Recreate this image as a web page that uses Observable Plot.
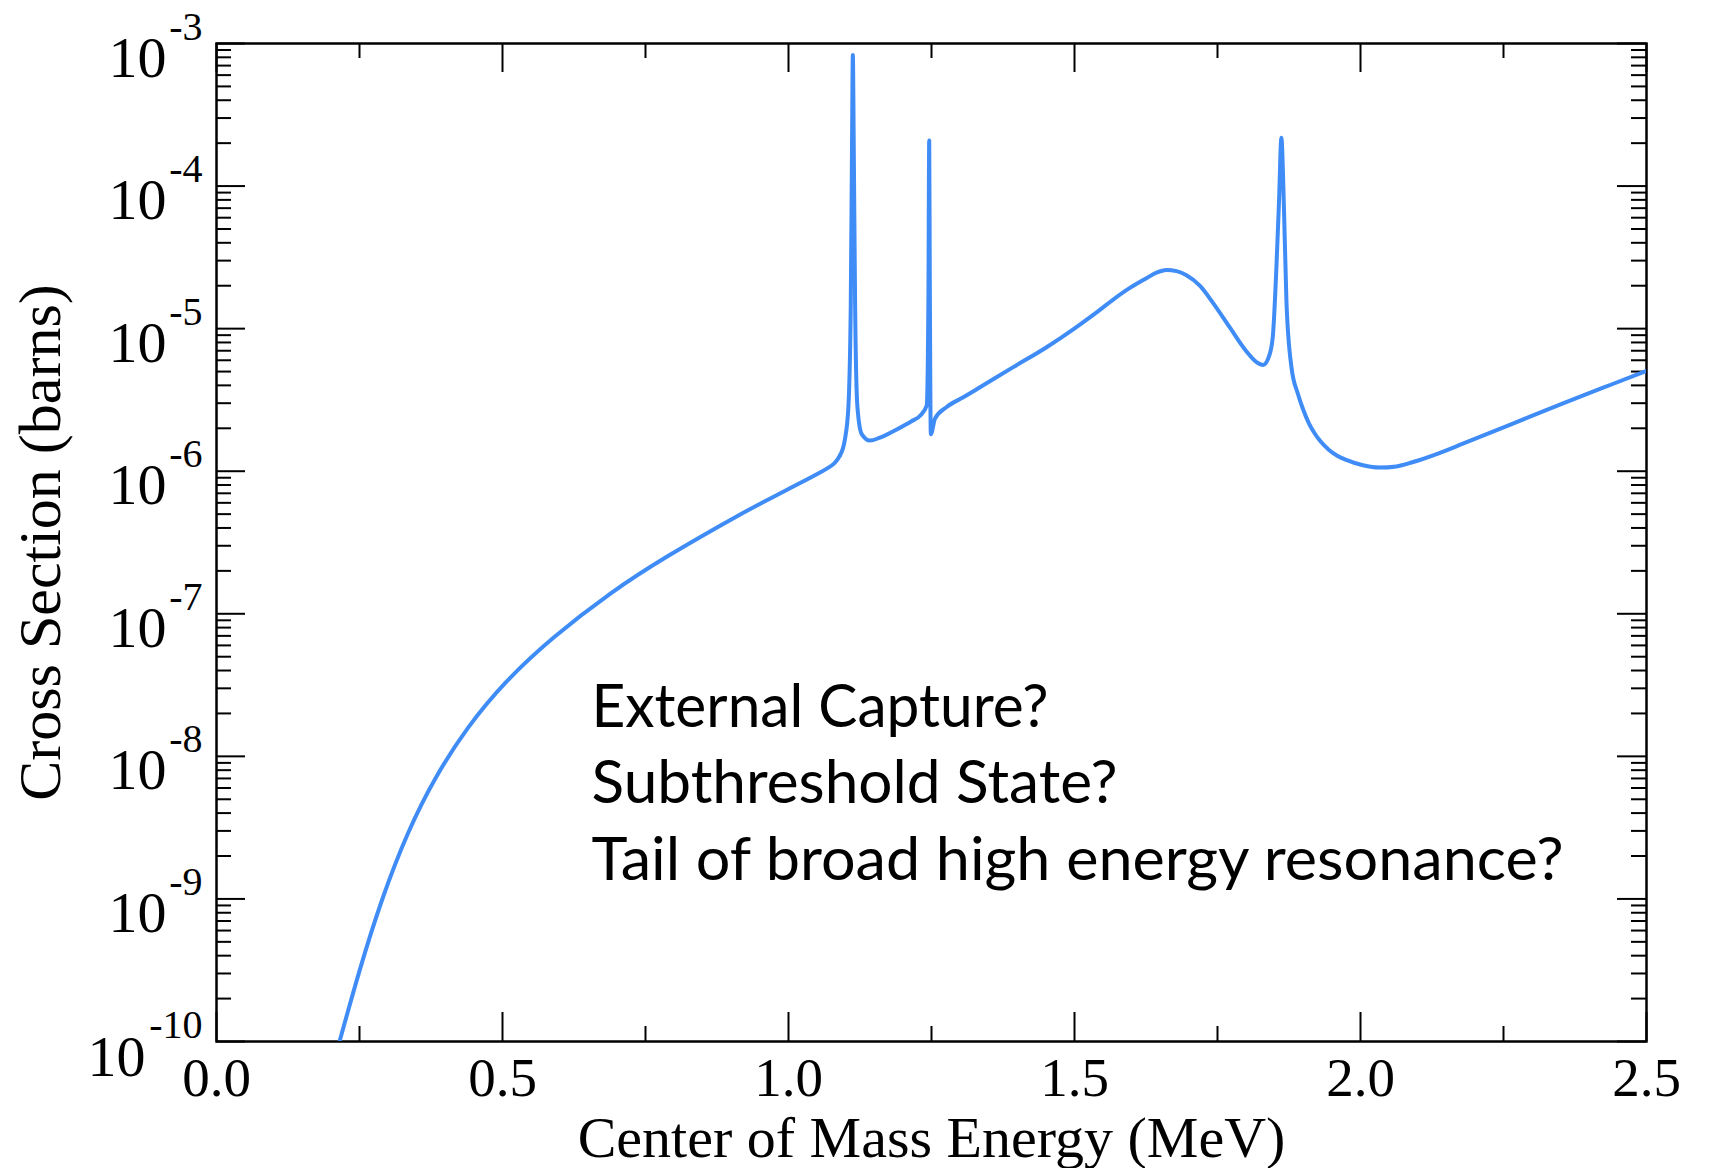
<!DOCTYPE html>
<html><head><meta charset="utf-8">
<script src="https://cdn.jsdelivr.net/npm/d3@7"></script>
<script src="https://cdn.jsdelivr.net/npm/@observablehq/plot@0.6"></script>
<style>html,body{margin:0;padding:0;background:#fff;} #chart{width:1716px;height:1168px;}</style>
</head><body><div id="chart"></div>
<script>
// Center of mass energy (MeV)
const energy = [0.2151, 0.2500, 0.2897, 0.3350, 0.3839, 0.4400, 0.5070, 0.5900, 0.6881, 0.7900,
  0.9054, 0.9800, 1.0503, 1.0800, 1.0900, 1.0989,
  1.1047, 1.1088, 1.1111, 1.1125, 1.1140, 1.1165, 1.1205, 1.128, 1.1425,
  1.160, 1.190, 1.215, 1.230, 1.2416, 1.2445, 1.2460, 1.2470, 1.2488, 1.2561, 1.2765, 1.3056,
  1.3347, 1.3929, 1.4512, 1.4978, 1.5386, 1.5677, 1.5968, 1.626, 1.6434, 1.6609, 1.6784, 1.6958,
  1.7191, 1.7424, 1.7715, 1.8007, 1.8182, 1.8298, 1.8414, 1.8471, 1.8530, 1.8576, 1.8617,
  1.8658, 1.8705, 1.8793, 1.8908, 1.8996, 1.9100, 1.9200, 1.9300, 1.9450, 1.9600, 1.9750,
  2.0044, 2.0335, 2.0627, 2.092, 2.1355, 2.179, 2.2665, 2.354, 2.441, 2.500];
// Cross section (barns)
const sigma = [1.00e-10, 3.13e-10, 9.91e-10, 2.90e-9, 7.14e-9, 1.59e-8, 3.34e-8, 6.84e-8, 1.38e-7, 2.55e-7,
  4.72e-7, 6.82e-7, 9.55e-7, 1.135e-6, 1.29e-6, 1.70e-6,
  2.82e-6, 1.41e-5, 2.09e-4, 8.32e-4, 2.09e-4, 1.41e-5, 2.82e-6, 1.82e-6, 1.64e-6,
  1.72e-6, 1.97e-6, 2.24e-6, 2.45e-6, 2.88e-6, 1.41e-5, 2.09e-4, 2.40e-5, 1.82e-6, 2.34e-6, 2.82e-6, 3.30e-6,
  3.88e-6, 5.37e-6, 7.41e-6, 9.89e-6, 1.30e-5, 1.60e-5, 1.93e-5, 2.26e-5, 2.47e-5, 2.58e-5, 2.53e-5, 2.37e-5,
  2.00e-5, 1.51e-5, 1.02e-5, 6.92e-6, 5.82e-6, 5.56e-6, 6.65e-6, 9.20e-6, 2.70e-5, 7.94e-5, 2.18e-4,
  7.94e-5, 1.57e-5, 5.37e-6, 3.47e-6, 2.72e-6, 2.16e-6, 1.84e-6, 1.62e-6, 1.41e-6, 1.28e-6, 1.20e-6,
  1.10e-6, 1.06e-6, 1.08e-6, 1.16e-6, 1.33e-6, 1.56e-6, 2.16e-6, 2.99e-6, 4.09e-6, 5.05e-6];

const xMajorTicks = [0, 0.5, 1.0, 1.5, 2.0, 2.5];
const xMinorTicks = [0.25, 0.75, 1.25, 1.75, 2.25];
const xTickLabels = ["0.0", "0.5", "1.0", "1.5", "2.0", "2.5"];
const yDecades = [1e-10, 1e-9, 1e-8, 1e-7, 1e-6, 1e-5, 1e-4, 1e-3];
const yExponents = ["-10", "-9", "-8", "-7", "-6", "-5", "-4", "-3"];
const yMinorMultipliers = [2, 3, 4, 5, 6, 7, 8, 9];
const annotationLines = ["External Capture?", "Subthreshold State?", "Tail of broad high energy resonance?"];
const xLabel = "Center of Mass Energy (MeV)";
const yLabel = "Cross Section (barns)";

const curve = energy.map((e, i) => ({e, s: sigma[i]}));
const smoothEnd = 1.0900; // below this the curve is a smooth non-resonant rise
const curveLow = curve.filter(d => d.e <= smoothEnd);
const curveHigh = curve.filter(d => d.e >= smoothEnd);
const yMinorTicks = yDecades.slice(0, -1).flatMap(d => yMinorMultipliers.map(m => m * d));
const decadeRows = yDecades.map((d, i) => ({d, exp: yExponents[i]}));

const W = 1716, H = 1168;
const mL = 216, mR = 70, mT = 43, mB = 127;
const fw = W - mL - mR, fh = H - mT - mB;
const major = 29, minor = 15;
const serif = "Liberation Serif, Times New Roman, serif";
const tickStyle = {stroke: "black", strokeWidth: 2};
const lineStyle = {x: "e", y: "s", stroke: "#3f8cf6", strokeWidth: 4, strokeLinejoin: "round", clip: true};

const chart = Plot.plot({
  width: W, height: H,
  marginLeft: mL, marginRight: mR, marginTop: mT, marginBottom: mB,
  style: {background: "white", overflow: "visible"},
  x: {domain: [0, 2.5], axis: null},
  y: {type: "log", domain: [1e-10, 1e-3], axis: null},
  marks: [
    // bottom & top x ticks (inward)
    Plot.tickX(xMajorTicks, {x: d => d, insetTop: fh - major, ...tickStyle}),
    Plot.tickX(xMinorTicks, {x: d => d, insetTop: fh - minor, ...tickStyle}),
    Plot.tickX(xMajorTicks, {x: d => d, insetBottom: fh - major, ...tickStyle}),
    Plot.tickX(xMinorTicks, {x: d => d, insetBottom: fh - minor, ...tickStyle}),
    // left & right y ticks (inward)
    Plot.tickY(yDecades, {y: d => d, insetRight: fw - major, ...tickStyle}),
    Plot.tickY(yMinorTicks, {y: d => d, insetRight: fw - minor, ...tickStyle}),
    Plot.tickY(yDecades, {y: d => d, insetLeft: fw - major, ...tickStyle}),
    Plot.tickY(yMinorTicks, {y: d => d, insetLeft: fw - minor, ...tickStyle}),
    Plot.frame({stroke: "black", strokeWidth: 2.5}),
    // curve
    Plot.line(curveLow, {...lineStyle, curve: "natural"}),
    Plot.line(curveHigh, {...lineStyle, curve: "monotone-x"}),
    // x tick labels
    Plot.text(xMajorTicks, {x: d => d, text: (d, i) => xTickLabels[i], frameAnchor: "bottom", dy: 54,
      textAnchor: "middle", lineAnchor: "bottom", fontSize: 55, fontFamily: serif, fill: "black"}),
    // y tick labels: "10" + raised exponent
    Plot.text(decadeRows.filter(r => r.d > 1e-10), {y: "d", text: () => "10", frameAnchor: "left", dx: -50, dy: 33,
      textAnchor: "end", lineAnchor: "bottom", fontSize: 58, fontFamily: serif, fill: "black"}),
    Plot.text(decadeRows.filter(r => r.d === 1e-10), {y: "d", text: () => "10", frameAnchor: "left", dx: -71, dy: 34,
      textAnchor: "end", lineAnchor: "bottom", fontSize: 58, fontFamily: serif, fill: "black"}),
    Plot.text(decadeRows, {y: "d", text: "exp", frameAnchor: "left", dx: -14, dy: -4,
      textAnchor: "end", lineAnchor: "bottom", fontSize: 40, fontFamily: serif, fill: "black"}),
    // axis titles
    Plot.text([xLabel], {text: d => d, frameAnchor: "bottom", dy: 115, textAnchor: "middle", lineAnchor: "bottom",
      fontSize: 58, fontFamily: serif, fill: "black"}),
    Plot.text([yLabel], {text: d => d, frameAnchor: "left", dx: -157, rotate: -90, textAnchor: "middle",
      lineAnchor: "bottom", fontSize: 60, fontFamily: serif, fill: "black"}),
    // annotation
    ...annotationLines.map((t, i) => Plot.text([t], {text: d => d, frameAnchor: "top-left", dx: 375, dy: 683 + i * 76.5,
      textAnchor: "start", lineAnchor: "bottom", fontSize: 60, fontFamily: "Lato, Open Sans, sans-serif", fill: "black"}))
  ]
});
document.getElementById("chart").appendChild(chart);

// narrow the annotation face to the reference widths; pin serif faces on axis texts
const targetWidths = {"External Capture?": 457, "Subthreshold State?": 526, "Tail of broad high energy resonance?": 972};
chart.querySelectorAll("text").forEach(el => {
  const t = el.textContent;
  if (targetWidths[t]) {
    el.setAttribute("textLength", targetWidths[t]);
    el.setAttribute("lengthAdjust", "spacingAndGlyphs");
  } else {
    el.style.fontFamily = serif;
  }
});
</script>
</body></html>
